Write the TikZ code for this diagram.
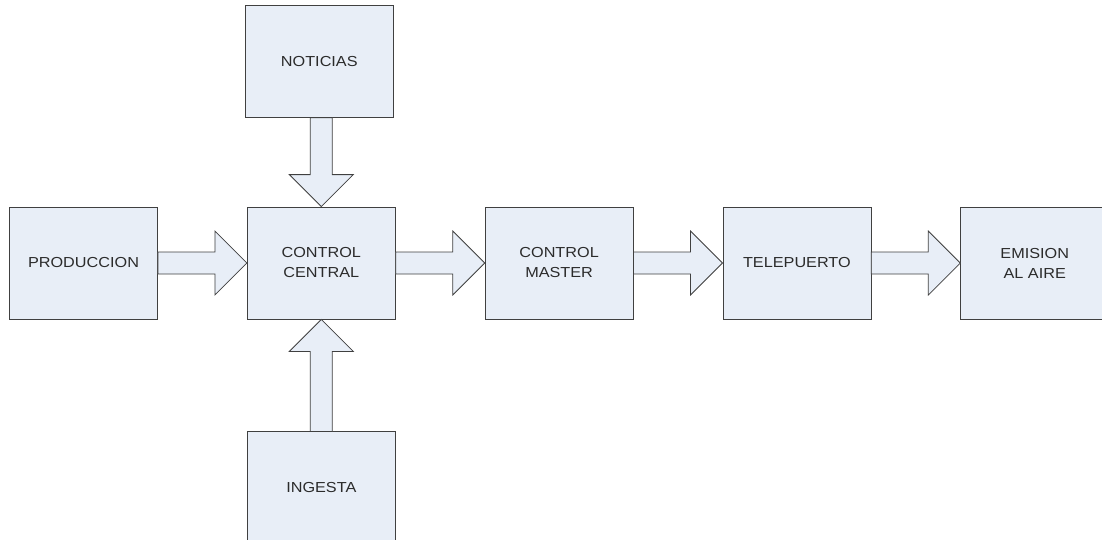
\documentclass[tikz,border=0pt]{standalone}
\usepackage{fontspec}
\setmainfont[FakeStretch=1.12]{Liberation Sans}
\usetikzlibrary{positioning,calc}
\definecolor{CajaFill}{HTML}{E8EEF7}
\definecolor{CajaLine}{HTML}{404040}
\definecolor{CajaText}{HTML}{2B2B2B}

\tikzset{
	caja/.style={draw=CajaLine, line width=0.8pt, fill=CajaFill, text=CajaText,
		minimum width=148pt, minimum height=112pt, inner sep=0pt, align=center,
		font=\fontsize{14.5}{20}\selectfont},
	flecha/.style={draw=CajaLine, line width=0.8pt, fill=CajaFill, line join=miter}
}

% block arrow from #1 to #2 (shaft 22pt, head 64pt wide, 32pt long)
\newcommand{\flecha}[2]{%
	\coordinate (h) at ($(#2)!32pt!(#1)$);
	\draw[flecha] ($(#1)!11pt!90:(#2)$) -- ($(h)!11pt!90:(#2)$) -- ($(h)!32pt!90:(#2)$)
	-- (#2) -- ($(h)!32pt!-90:(#2)$) -- ($(h)!11pt!-90:(#2)$) -- ($(#1)!11pt!-90:(#2)$) -- cycle;
}

\begin{document}
\begin{tikzpicture}[x=1pt, y=1pt, node distance=89pt]
	\useasboundingbox (0,0) rectangle (1102,-539);
	
	\node[caja] (produccion) at (83.5,-263) {PRODUCCION};
	\node[caja, right=of produccion] (central) {CONTROL\\CENTRAL};
	\node[caja, right=of central] (master) {CONTROL\\MASTER};
	\node[caja, right=of master] (telepuerto) {TELEPUERTO};
	\node[caja, right=of telepuerto] (emision) {EMISION\\AL AIRE};
	\node[caja, above=of central, xshift=-2pt] (noticias) {NOTICIAS};
	\node[caja, below=112pt of central] (ingesta) {INGESTA};
	
	\flecha{produccion.east}{central.west}
	\flecha{central.east}{master.west}
	\flecha{master.east}{telepuerto.west}
	\flecha{telepuerto.east}{emision.west}
	\flecha{noticias.south -| central.north}{central.north}
	\flecha{ingesta.north}{central.south}
\end{tikzpicture}
\end{document}
